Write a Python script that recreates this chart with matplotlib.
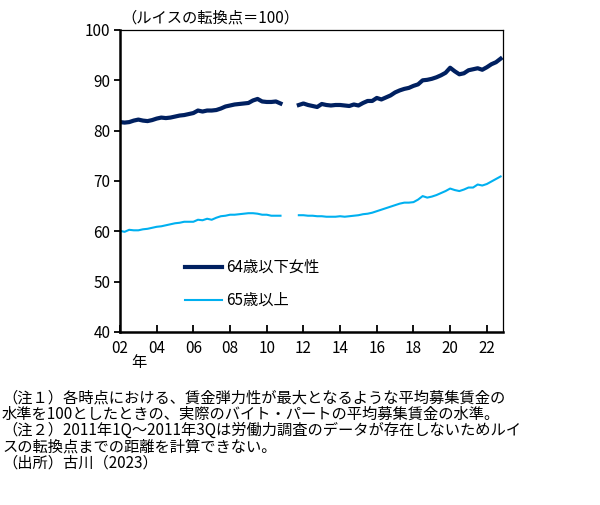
import numpy as np
import matplotlib
matplotlib.use('Agg')
import matplotlib.pyplot as plt

plt.rcParams['font.family'] = ['Noto Sans CJK JP', 'DejaVu Sans']

# 四半期データ 2002Q1〜2022Q4（2011Q1〜Q3は欠損）
start_year = 2002
under64_female = [
    81.7, 81.6, 81.7, 82.0,
    82.2, 82.0, 81.9, 82.1,
    82.4, 82.6, 82.5, 82.6,
    82.8, 83.0, 83.1, 83.3,
    83.5, 84.0, 83.8, 84.0,
    84.0, 84.1, 84.4, 84.8,
    85.0, 85.2, 85.3, 85.4,
    85.5, 86.0, 86.3, 85.8,
    85.7, 85.7, 85.8, 85.4,
    np.nan, np.nan, np.nan, 85.1,
    85.4, 85.1, 84.9, 84.7,
    85.3, 85.1, 85.0, 85.1,
    85.1, 85.0, 84.9, 85.2,
    85.0, 85.5, 85.9, 85.9,
    86.5, 86.2, 86.6, 87.0,
    87.6, 88.0, 88.3, 88.5,
    88.9, 89.2, 90.0, 90.1,
    90.3, 90.6, 91.0, 91.5,
    92.5, 91.8, 91.2, 91.4,
    92.0, 92.2, 92.4, 92.1,
    92.6, 93.2, 93.6, 94.3,
]
over65 = [
    60.1, 59.9, 60.3, 60.2,
    60.2, 60.4, 60.5, 60.7,
    60.9, 61.0, 61.2, 61.4,
    61.6, 61.7, 61.9, 61.9,
    61.9, 62.3, 62.2, 62.5,
    62.3, 62.7, 63.0, 63.1,
    63.3, 63.3, 63.4, 63.5,
    63.6, 63.6, 63.5, 63.3,
    63.3, 63.1, 63.1, 63.1,
    np.nan, np.nan, np.nan, 63.2,
    63.2, 63.1, 63.1, 63.0,
    63.0, 62.9, 62.9, 62.9,
    63.0, 62.9, 63.0, 63.1,
    63.2, 63.4, 63.5, 63.7,
    64.0, 64.3, 64.6, 64.9,
    65.2, 65.5, 65.7, 65.7,
    65.8, 66.3, 67.0, 66.7,
    66.9, 67.2, 67.6, 68.0,
    68.5, 68.2, 68.0, 68.3,
    68.7, 68.7, 69.3, 69.1,
    69.4, 69.9, 70.4, 70.9,
]
labels = ['64歳以下女性', '65歳以上']
xticks = list(range(2002, 2023, 2))
xticklabels = ['%02d' % (y % 100) for y in xticks]
notes = [
    '（注１）各時点における、賃金弾力性が最大となるような平均募集賃金の',
    '水準を100としたときの、実際のバイト・パートの平均募集賃金の水準。',
    '（注２）2011年1Q～2011年3Qは労働力調査のデータが存在しないためルイ',
    'スの転換点までの距離を計算できない。',
    '（出所）古川（2023）',
]

x = start_year + np.arange(len(under64_female)) / 4

fig = plt.figure(figsize=(6, 5.05), dpi=100)
ax = fig.add_axes([0.2, 0.3426, 0.638, 0.598])

ax.plot(x, under64_female, color='#002060', lw=3, label=labels[0])
ax.plot(x, over65, color='#00B0F0', lw=1.5, label=labels[1])

ax.set_xlim(2002, 2022.87)
ax.set_ylim(40, 100)
ax.set_yticks(range(40, 101, 10))
ax.set_xticks(xticks)
ax.set_xticklabels(xticklabels)
ax.tick_params(axis='x', direction='in', length=5, width=1.3, labelsize=11, pad=6)
ax.tick_params(axis='y', direction='out', length=4, width=1.3, labelsize=11, pad=3)
for s in ['left', 'bottom']:
    ax.spines[s].set_linewidth(1.8)
for s in ['top', 'right']:
    ax.spines[s].set_linewidth(0.9)

ax.legend(loc='upper left', bbox_to_anchor=(0.17, 0.242), frameon=False,
          fontsize=11, handlelength=2.4, handletextpad=0.3, labelspacing=1.05,
          borderpad=0, borderaxespad=0)

fig.text(0.203, 0.964, '（ルイスの転換点＝100）', fontsize=11, va='center', ha='left')
fig.text(139 / 600, 1 - 363 / 505, '年', fontsize=11, va='center', ha='center')

# 注記は1つのテキストにまとめる
fig.text(2 / 600, 1 - 430.5 / 505, '\n'.join(notes), fontsize=11,
         va='center', ha='left', linespacing=0.95)

fig.savefig('out.png', dpi=100)
